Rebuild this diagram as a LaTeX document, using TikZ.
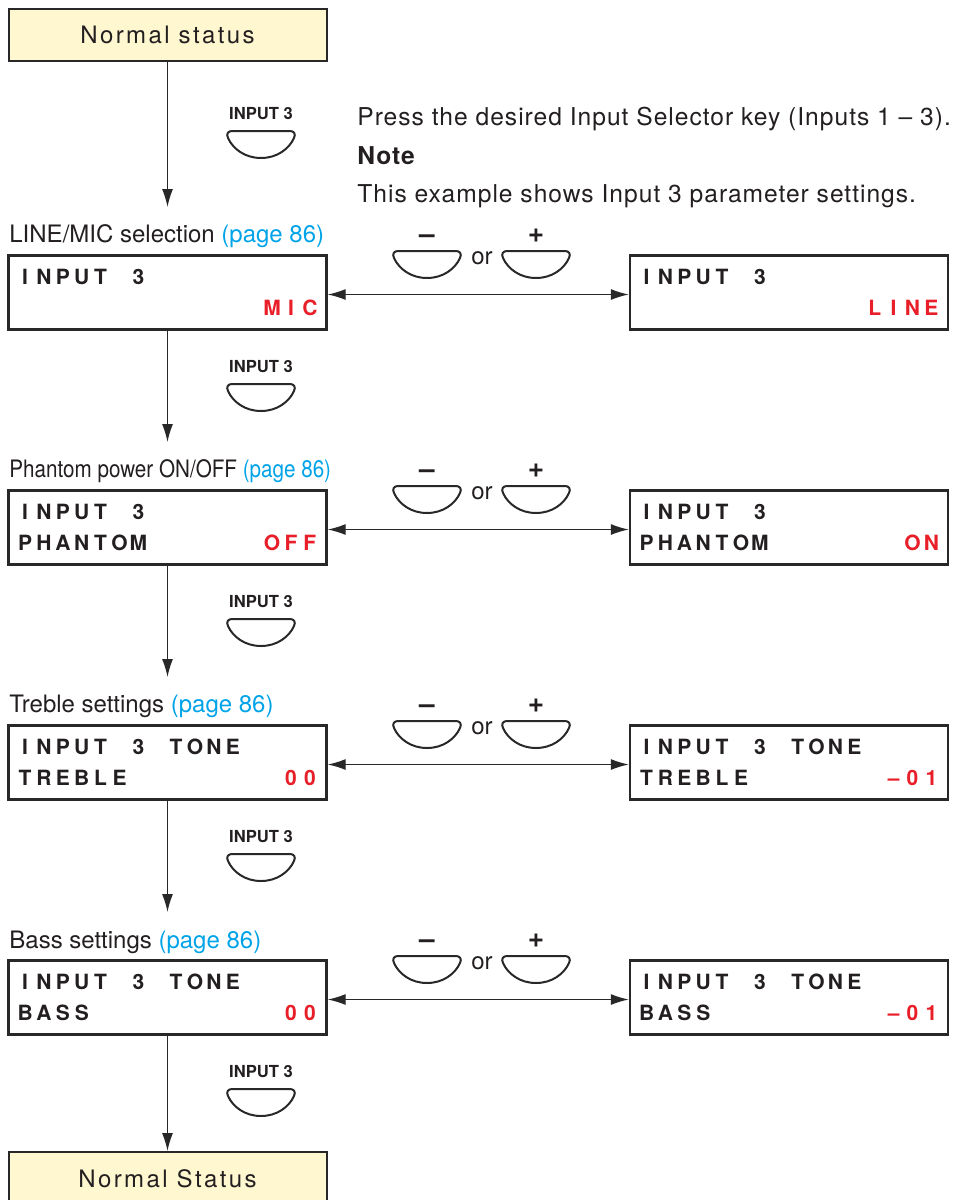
\documentclass[tikz,border=0pt]{standalone}
\usepackage{fontspec}
\setmainfont{TeX Gyre Heros}
\newfontfamily\statusfont[LetterSpace=10]{TeX Gyre Heros}
\newfontfamily\introfont[LetterSpace=4]{TeX Gyre Heros}
\usetikzlibrary{arrows.meta, positioning}
\definecolor{textgray}{RGB}{35,31,32}
\definecolor{linegray}{RGB}{40,40,40}
\definecolor{statusyellow}{RGB}{254,247,208}
\definecolor{valred}{RGB}{232,30,40}
\definecolor{pagecyan}{RGB}{0,163,232}
\newlength\lcdcell
\setlength\lcdcell{9.44pt}
\ExplSyntaxOn
\NewDocumentCommand\lcdcells{m}{\str_map_inline:nn{#1}{\makebox[\lcdcell][c]{##1}}}
\ExplSyntaxOff

\begin{document}
\begin{tikzpicture}[x=0.5pt, y=-0.5pt,
  statusbox/.style={draw=linegray, fill=statusyellow, line width=1pt, minimum width=159pt, minimum height=26pt, inner sep=0pt, font=\statusfont\fontsize{12}{14}\selectfont, text=textgray},
  lcdbox/.style={draw=linegray, line width=1.2pt, minimum width=159pt, minimum height=37pt, inner sep=0pt},
  lcdtext/.style={inner sep=0pt, font=\bfseries\fontsize{10.5}{12}\selectfont, text=textgray},
  lcdvalue/.style={lcdtext, text=valred},
  steplabel/.style={inner sep=0pt, anchor=base west, font=\fontsize{12}{14}\selectfont, text=textgray},
  introtext/.style={steplabel, font=\introfont\fontsize{12.3}{14}\selectfont},
  plainlabel/.style={inner sep=0pt, font=\fontsize{12}{14}\selectfont, text=textgray},
  keylabel/.style={inner sep=0pt, font=\bfseries\fontsize{8.3}{10}\selectfont, text=textgray},
  signlabel/.style={inner sep=0pt, anchor=base, font=\bfseries\fontsize{14}{15}\selectfont, text=textgray},
  flow/.style={draw=linegray, line width=0.65pt, -{Latex[length=9pt, width=5.5pt]}},
  toggle/.style={draw=linegray, line width=0.65pt, {Latex[length=9pt, width=5.5pt]}-{Latex[length=9pt, width=5.5pt]}},
  keycap/.pic={\draw[linegray, line width=1pt] (-29,0) -- (29,0) .. controls (33,0) and (35,3) .. (33,7) .. controls (28,18) and (16,27) .. (0,27) .. controls (-16,27) and (-28,18) .. (-33,7) .. controls (-35,3) and (-33,0) .. (-29,0) -- cycle;},
  inputkey/.pic={\node[keylabel] (-lbl) at (0,0) {INPUT 3}; \pic at (0,17) {keycap};},
  choice/.pic={
    \node[signlabel] (-minus) at (-55,-15) {–};
    \pic at (-55,-7) {keycap};
    \node[plainlabel] (-or) at (0,0) {or};
    \node[signlabel] (-plus) at (54,-16) {+};
    \pic at (54,-7) {keycap};
  }
]
\useasboundingbox (0,0) rectangle (959,1200);
\clip (0,0) rectangle (959,1200);

\node[statusbox] (start) at (167.5,35) {Normal status};
\pic (k1) at (261,114) {inputkey};
\node[introtext] (intro) at (357,125) {Press the desired Input Selector key (Inputs 1 – 3).};
\node[steplabel, font=\introfont\bfseries\fontsize{12.3}{14}\selectfont] (notehead) at (357,164) {Note};
\node[introtext] (notetext) at (357,202) {This example shows Input 3 parameter settings.};

\node[steplabel] (sel1) at (9,242) {LINE/MIC selection \textcolor{pagecyan}{(page 86)}};
\node[lcdbox] (mic) at (167.5,292.5) {};
\node[lcdtext, anchor=base west] (mic-a) at ([shift={(8,30)}]mic.north west) {\lcdcells{INPUT 3}};
\node[lcdvalue, anchor=base east] (mic-b) at ([shift={(-8,61)}]mic.north east) {\lcdcells{MIC}};
\node[lcdbox] (line) at (789,292.5) {};
\node[lcdtext, anchor=base west] (line-a) at ([shift={(8,30)}]line.north west) {\lcdcells{INPUT 3}};
\node[lcdvalue, anchor=base east] (line-b) at ([shift={(-8,61)}]line.north east) {\lcdcells{LINE}};
\pic (c1) at (482,258) {choice};
\pic (k2) at (261,367) {inputkey};

\node[steplabel] (sel2) at (9,477) {\scalebox{0.86}[1]{Phantom power ON/OFF \textcolor{pagecyan}{(page 86)}}};
\node[lcdbox] (off) at (167.5,527.5) {};
\node[lcdtext, anchor=base west] (off-a) at ([shift={(8,30)}]off.north west) {\lcdcells{INPUT 3}};
\node[lcdtext, anchor=base west] (off-b) at ([shift={(8,61)}]off.north west) {\lcdcells{PHANTOM}};
\node[lcdvalue, anchor=base east] (off-c) at ([shift={(-8,61)}]off.north east) {\lcdcells{OFF}};
\node[lcdbox] (on) at (789,527.5) {};
\node[lcdtext, anchor=base west] (on-a) at ([shift={(8,30)}]on.north west) {\lcdcells{INPUT 3}};
\node[lcdtext, anchor=base west] (on-b) at ([shift={(8,61)}]on.north west) {\lcdcells{PHANTOM}};
\node[lcdvalue, anchor=base east] (on-c) at ([shift={(-8,61)}]on.north east) {\lcdcells{ON}};
\pic (c2) at (482,493) {choice};
\pic (k3) at (261,602) {inputkey};

\node[steplabel] (sel3) at (9,712) {Treble settings \textcolor{pagecyan}{(page 86)}};
\node[lcdbox] (treb) at (167.5,762.5) {};
\node[lcdtext, anchor=base west] (treb-a) at ([shift={(8,30)}]treb.north west) {\lcdcells{INPUT 3 TONE}};
\node[lcdtext, anchor=base west] (treb-b) at ([shift={(8,61)}]treb.north west) {\lcdcells{TREBLE}};
\node[lcdvalue, anchor=base east] (treb-c) at ([shift={(-8,61)}]treb.north east) {\lcdcells{00}};
\node[lcdbox] (trebdn) at (789,762.5) {};
\node[lcdtext, anchor=base west] (trebdn-a) at ([shift={(8,30)}]trebdn.north west) {\lcdcells{INPUT 3 TONE}};
\node[lcdtext, anchor=base west] (trebdn-b) at ([shift={(8,61)}]trebdn.north west) {\lcdcells{TREBLE}};
\node[lcdvalue, anchor=base east] (trebdn-c) at ([shift={(-8,61)}]trebdn.north east) {\lcdcells{–01}};
\pic (c3) at (482,728) {choice};
\pic (k4) at (261,837) {inputkey};

\node[steplabel] (sel4) at (9,948) {Bass settings \textcolor{pagecyan}{(page 86)}};
\node[lcdbox] (bass) at (167.5,997.5) {};
\node[lcdtext, anchor=base west] (bass-a) at ([shift={(8,30)}]bass.north west) {\lcdcells{INPUT 3 TONE}};
\node[lcdtext, anchor=base west] (bass-b) at ([shift={(8,61)}]bass.north west) {\lcdcells{BASS}};
\node[lcdvalue, anchor=base east] (bass-c) at ([shift={(-8,61)}]bass.north east) {\lcdcells{00}};
\node[lcdbox] (bassdn) at (789,997.5) {};
\node[lcdtext, anchor=base west] (bassdn-a) at ([shift={(8,30)}]bassdn.north west) {\lcdcells{INPUT 3 TONE}};
\node[lcdtext, anchor=base west] (bassdn-b) at ([shift={(8,61)}]bassdn.north west) {\lcdcells{BASS}};
\node[lcdvalue, anchor=base east] (bassdn-c) at ([shift={(-8,61)}]bassdn.north east) {\lcdcells{–01}};
\pic (c4) at (482,963) {choice};
\pic (k5) at (261,1072) {inputkey};

\node[statusbox, minimum height=27pt] (done) at (167.5,1179) {Normal Status};

\coordinate (tip1) at (167.5,207);
\coordinate (tip2) at (167.5,442);
\coordinate (tip3) at (167.5,677);
\coordinate (tip4) at (167.5,912);
\draw[flow] (start) -- (tip1);
\draw[flow] (mic) -- (tip2);
\draw[flow] (off) -- (tip3);
\draw[flow] (treb) -- (tip4);
\draw[flow] (bass) -- (done);
\draw[toggle] ([yshift=-1pt]mic.east) -- ([yshift=-1pt]line.west);
\draw[toggle] ([yshift=-1pt]off.east) -- ([yshift=-1pt]on.west);
\draw[toggle] ([yshift=-1pt]treb.east) -- ([yshift=-1pt]trebdn.west);
\draw[toggle] ([yshift=-1pt]bass.east) -- ([yshift=-1pt]bassdn.west);
\end{tikzpicture}
\end{document}
